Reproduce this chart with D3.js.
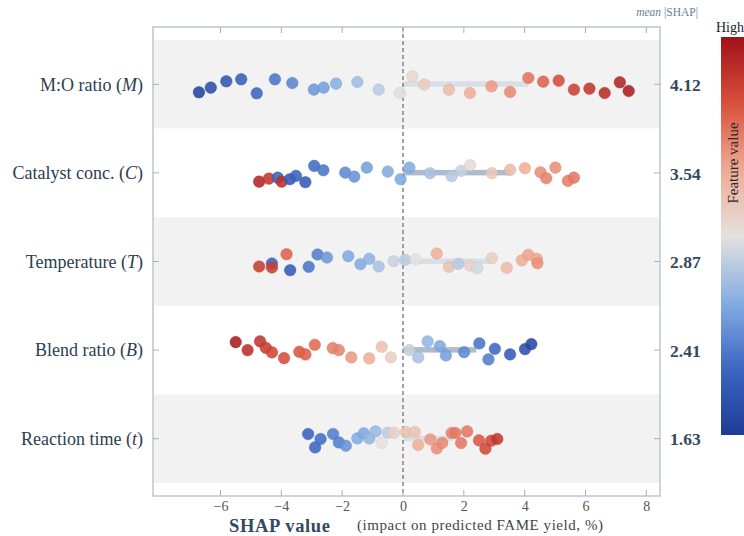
<!DOCTYPE html>
<html><head><meta charset="utf-8">
<script src="https://cdn.jsdelivr.net/npm/d3@7"></script>
<style>body{margin:0;background:#fff}svg{display:block}</style>
</head><body><svg id="c" width="744" height="536"></svg>
<script>
// ---- data ----
const features = ["M:O ratio", "Catalyst conc.", "Temperature", "Blend ratio", "Reaction time"];
const symbols = ["M", "C", "T", "B", "t"];
const meanAbs = [4.12, 3.54, 2.87, 2.41, 1.63];
const xTicks = [-6, -4, -2, 0, 2, 4, 6, 8];

const shapMO = [-6.71,-6.32,-5.81,-5.32,-4.81,-4.21,-3.64,-2.93,-2.61,-2.20,-1.50,-0.80,-0.10,0.31,0.70,1.51,2.20,2.91,3.52,4.12,4.61,5.12,5.62,6.13,6.63,7.13,7.42];
const featMO = [0.03,0.07,0.10,0.13,0.16,0.20,0.24,0.28,0.30,0.34,0.38,0.43,0.49,0.53,0.57,0.62,0.66,0.70,0.73,0.77,0.80,0.84,0.87,0.90,0.93,0.95,0.97];
const jitMO = [8,3.3,-3,-5,9,-5,-1.3,5.3,3.3,-0.7,-2.3,5.3,8.7,-8,0.3,5.3,8.7,2,7.7,-6.3,-2.7,-3.7,5.3,4.3,8.7,-2,6.7];

const shapCat = [-4.73,-4.41,-4.12,-3.99,-3.72,-3.52,-3.21,-2.92,-2.62,-1.90,-1.60,-1.19,-0.50,-0.08,0.21,0.89,1.60,1.91,2.21,2.92,3.52,4.01,4.52,4.71,5.01,5.42,5.62];
const featCat = [0.95,0.90,0.15,0.92,0.12,0.15,0.12,0.18,0.20,0.25,0.27,0.30,0.33,0.32,0.33,0.40,0.42,0.45,0.52,0.58,0.62,0.66,0.72,0.74,0.72,0.75,0.76];
const jitCat = [8.7,5.7,4.7,8.7,6.3,3,9.3,-7,-2.7,-0.3,3.7,-5.3,-1.3,6.3,-5.3,0.3,3.3,-2,-7.7,0.3,-3,-4.7,-0.7,5.3,-5.3,8,4.7];

const shapTemp = [-4.73,-4.31,-4.31,-3.83,-3.71,-3.10,-2.81,-2.50,-1.80,-1.40,-1.11,-0.80,-0.31,0.07,0.42,1.11,1.51,1.82,2.20,2.44,2.92,3.41,3.91,4.12,4.40,4.42];
const featTemp = [0.88,0.15,0.88,0.80,0.12,0.20,0.22,0.28,0.32,0.33,0.35,0.40,0.45,0.43,0.50,0.65,0.60,0.42,0.55,0.47,0.56,0.62,0.66,0.68,0.68,0.72];
const jitTemp = [5,2,6,-7.3,8.7,5.3,-7,-4,-5.3,2.7,-2.7,5,-0.3,-1.7,-2,-8,5.3,2.3,4,6.7,-3.3,6.3,-1.3,-6.7,-2.7,1.7];

const shapBlend = [-5.50,-5.11,-4.70,-4.51,-4.31,-3.91,-3.41,-3.21,-2.90,-2.31,-2.11,-1.70,-1.11,-0.70,-0.40,0.21,0.50,0.81,1.21,1.41,2.01,2.51,2.81,3.02,3.52,4.01,4.22];
const featBlend = [0.97,0.92,0.90,0.88,0.86,0.84,0.82,0.80,0.78,0.75,0.74,0.70,0.66,0.60,0.56,0.45,0.40,0.36,0.32,0.30,0.25,0.20,0.22,0.17,0.12,0.08,0.05];
const jitBlend = [-8,0,-8.7,-2.3,2.3,8,1.7,4.3,-5.3,-2,0,7.3,8.3,-3.3,7.3,0,7.3,-8.7,-4,5.3,2,-6.7,9.3,-1.3,4.3,-1,-6];

const shapTime = [-3.12,-2.89,-2.71,-2.30,-2.11,-1.88,-1.50,-1.29,-1.11,-0.90,-0.70,-0.50,-0.30,0.10,0.39,0.50,0.90,1.11,1.29,1.60,1.72,1.91,2.11,2.50,2.71,2.90,3.10];
const featTime = [0.15,0.17,0.18,0.22,0.22,0.27,0.33,0.32,0.36,0.37,0.50,0.43,0.56,0.60,0.60,0.66,0.70,0.72,0.73,0.74,0.76,0.76,0.76,0.82,0.85,0.86,0.90];
const jitTime = [-4.7,8.7,0.3,-4.7,3.7,7,-0.3,-5.3,-0.3,-7.3,4.3,-6,-6,-6.7,-6.7,6.3,0.7,9.7,4.3,-5.7,-5.7,4.3,-7.3,1.7,10,2,0.3];

const shapRows = [shapMO, shapCat, shapTemp, shapBlend, shapTime];
const featRows = [featMO, featCat, featTemp, featBlend, featTime];
const jitRows = [jitMO, jitCat, jitTemp, jitBlend, jitTime];

// ---- layout ----
const svg = d3.select("#c");
const L = 153, R = 660, T = 27, B = 496;
const serif = "'Liberation Serif', 'DejaVu Serif', serif";
const x = d3.scaleLinear().domain([-8.22, 8.45]).range([L, R]);
const y = d3.scaleBand().domain(features).range([40, 483]).padding(0);
const color = d3.scaleLinear()
  .domain([0, 0.17, 0.33, 0.5, 0.67, 0.83, 1])
  .range(["#1e3c96", "#3d67c2", "#82acE3", "#e4e1df", "#f0ab93", "#d9503c", "#a0121a"]);

// bands
svg.selectAll("rect.band").data(features).join("rect")
  .attr("x", L).attr("width", R - L)
  .attr("y", d => y(d)).attr("height", y.bandwidth())
  .attr("fill", (d, i) => i % 2 === 0 ? "#f2f2f2" : "#ffffff");

// mean bars
svg.selectAll("rect.mean").data(features).join("rect")
  .attr("x", x(0)).attr("width", (d, i) => x(meanAbs[i]) - x(0))
  .attr("y", d => y(d) + y.bandwidth() / 2 - 3).attr("height", 5.5)
  .attr("fill", (d, i) => i % 2 === 0 ? "#d9dfe6" : "#aebbcc");

// zero line
svg.append("line").attr("x1", x(0)).attr("x2", x(0)).attr("y1", T).attr("y2", B)
  .attr("stroke", "#666").attr("stroke-width", 1.2).attr("stroke-dasharray", "4,3");

// points
features.forEach((f, i) => {
  const cy = y(f) + y.bandwidth() / 2;
  const pts = shapRows[i].map((v, j) => ({ v, c: featRows[i][j], dy: jitRows[i][j] }));
  svg.append("g").selectAll("circle").data(pts).join("circle")
    .attr("cx", d => x(d.v)).attr("cy", d => cy + d.dy).attr("r", 5.8)
    .attr("fill", d => color(d.c)).attr("fill-opacity", 0.88)
    .attr("stroke", d => d3.color(color(d.c)).darker(0.25)).attr("stroke-opacity", 0.6)
    .attr("stroke-width", 0.7);
});

// frame
svg.append("rect").attr("x", L).attr("y", T).attr("width", R - L).attr("height", B - T)
  .attr("fill", "none").attr("stroke", "#c3c9d1").attr("stroke-width", 1.6);

// x ticks (top and bottom, inward)
const tg = svg.append("g");
xTicks.forEach(t => {
  tg.append("line").attr("x1", x(t)).attr("x2", x(t)).attr("y1", B).attr("y2", B - 6).attr("stroke", "#a9b0ba");
  tg.append("line").attr("x1", x(t)).attr("x2", x(t)).attr("y1", T).attr("y2", T + 6).attr("stroke", "#a9b0ba");
});
svg.append("g").attr("transform", `translate(0,${B})`)
  .call(d3.axisBottom(x).tickValues(xTicks).tickSize(0).tickPadding(5)
    .tickFormat(d => d < 0 ? "\u2212" + Math.abs(d) : String(d)))
  .call(g => g.select(".domain").remove())
  .call(g => g.selectAll("text").attr("font-family", serif).attr("font-size", 14).attr("fill", "#555"));

// y ticks inward
features.forEach(f => {
  const cy = y(f) + y.bandwidth() / 2;
  svg.append("line").attr("x1", L).attr("x2", L + 6).attr("y1", cy).attr("y2", cy).attr("stroke", "#a9b0ba");
  svg.append("line").attr("x1", R - 6).attr("x2", R).attr("y1", cy).attr("y2", cy).attr("stroke", "#a9b0ba");
});

// feature labels
features.forEach((f, i) => {
  const cy = y(f) + y.bandwidth() / 2;
  const t = svg.append("text").attr("x", 143).attr("y", cy).attr("dy", "0.35em")
    .attr("text-anchor", "end").attr("font-family", serif).attr("font-size", 18).attr("fill", "#2c3e50");
  t.append("tspan").text(f + " (");
  t.append("tspan").attr("font-style", "italic").text(symbols[i]);
  t.append("tspan").text(")");
  svg.append("text").attr("x", 670).attr("y", cy).attr("dy", "0.38em")
    .attr("font-family", serif).attr("font-weight", "bold").attr("font-size", 17.5)
    .attr("fill", "#34495e").text(meanAbs[i].toFixed(2));
});

// mean |SHAP| header
const mh = svg.append("text").attr("x", 698).attr("y", 16).attr("text-anchor", "end")
  .attr("font-family", serif).attr("font-size", 11.5).attr("fill", "#6c7e93");
mh.append("tspan").attr("font-style", "italic").text("mean ");
mh.append("tspan").text("|SHAP|");

// x axis title
svg.append("text").attr("x", 229).attr("y", 532).attr("font-family", serif)
  .attr("font-weight", "bold").attr("font-size", 18.5).attr("fill", "#34495e")
  .attr("textLength", 101).text("SHAP value");
svg.append("text").attr("x", 357).attr("y", 530).attr("font-family", serif)
  .attr("font-size", 15).attr("fill", "#444").attr("textLength", 246)
  .text("(impact on predicted FAME yield, %)");

// colorbar
const cbX = 721, cbW = 23, cbT = 37, cbB = 435;
const defs = svg.append("defs");
const grad = defs.append("linearGradient").attr("id", "cbg").attr("x1", 0).attr("y1", 1).attr("x2", 0).attr("y2", 0);
d3.range(0, 1.0001, 0.05).forEach(s => grad.append("stop").attr("offset", s).attr("stop-color", color(s)));
svg.append("rect").attr("x", cbX).attr("y", cbT).attr("width", cbW).attr("height", cbB - cbT).attr("fill", "url(#cbg)");
svg.append("text").attr("x", 716).attr("y", 32).attr("font-family", serif).attr("font-size", 14).attr("fill", "#222").text("High");
svg.append("text").attr("transform", `translate(738,163) rotate(-90)`).attr("text-anchor", "middle")
  .attr("font-family", serif).attr("font-size", 15).attr("fill", "#2a2a2a").text("Feature value");
</script></body></html>
